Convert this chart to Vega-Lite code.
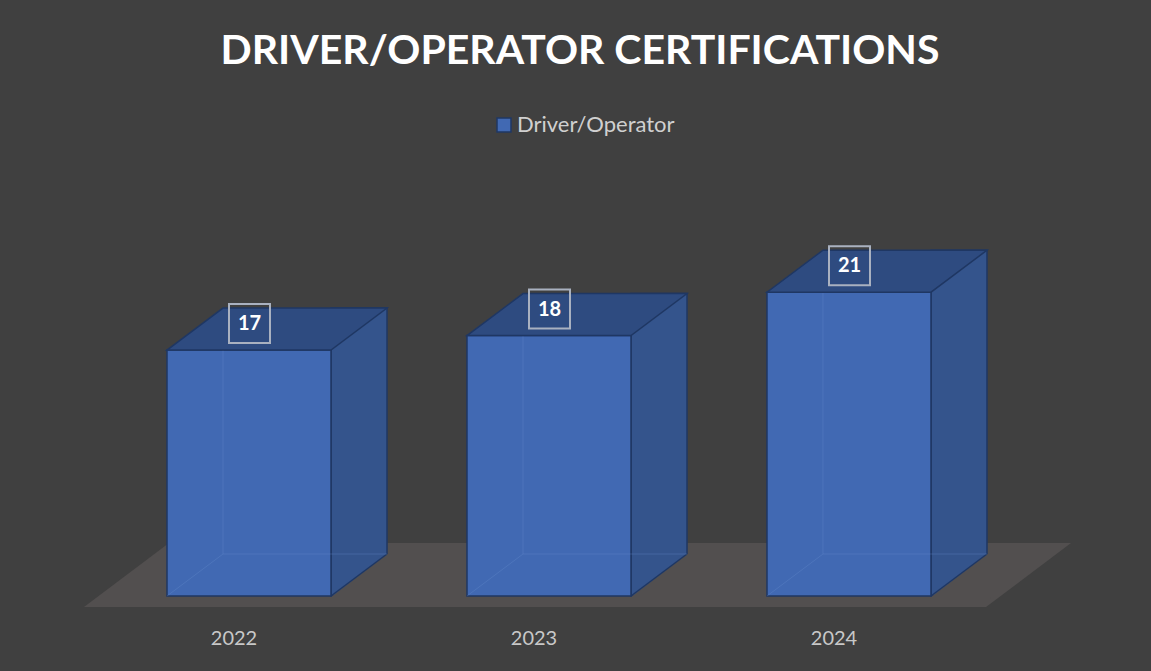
{
  "$schema": "https://vega.github.io/schema/vega-lite/v6.json",
  "width": 900,
  "height": 434,
  "autosize": {"type": "none"},
  "padding": {"left": 99, "top": 162, "right": 152, "bottom": 75},
  "background": "#404040",
  "config": {"view": {"stroke": null}, "font": "Lato"},
  "title": {
    "text": "DRIVER/OPERATOR CERTIFICATIONS",
    "font": "Lato",
    "fontSize": 41,
    "fontWeight": "bold",
    "color": "#FFFFFF",
    "anchor": "middle",
    "frame": "group",
    "dx": 31,
    "offset": 41
  },
  "data": {
    "values": [
      {"year": "2022", "value": 17},
      {"year": "2023", "value": 18},
      {"year": "2024", "value": 21}
    ]
  },
  "encoding": {
    "x": {
      "field": "year",
      "type": "nominal",
      "scale": {"paddingInner": 0.45333, "paddingOuter": 0.22667},
      "axis": {
        "title": null,
        "ticks": false,
        "domain": false,
        "labelAngle": 0,
        "labelColor": "#C8C8C8",
        "labelFont": "Lato",
        "labelFontSize": 20,
        "labelOffset": -15,
        "labelBaseline": "middle",
        "labelPadding": 42
      }
    },
    "y": {
      "field": "value",
      "type": "quantitative",
      "scale": {"domain": [0, 30], "nice": false, "zero": true},
      "axis": null
    }
  },
  "layer": [
    {
      "transform": [{"filter": "datum.year == '2023'"}],
      "mark": {"type": "point", "shape": "M-465,11L437,11L522,-53L-380,-53Z", "size": 4, "filled": true, "fill": "#524F4F", "opacity": 1, "strokeWidth": 0},
      "encoding": {"y": {"datum": 0, "type": "quantitative", "axis": null}}
    },
    {
      "mark": {"type": "bar", "width": 56, "xOffset": 110, "yOffset": -42, "fill": "#34548C", "stroke": "#1F3763", "strokeWidth": 1.5},
      "encoding": {"y2": {"datum": 0}}
    },
    {
      "mark": {"type": "point", "shape": "M82,1L138,-42L142,-42L142,3L82,3Z", "size": 4, "filled": true, "fill": "#524F4F", "opacity": 1, "strokeWidth": 0},
      "encoding": {"y": {"datum": 0, "type": "quantitative", "axis": null}}
    },
    {
      "mark": {"type": "point", "shape": "M82,0L138,-42", "size": 4, "filled": false, "stroke": "#1F3763", "strokeWidth": 1.5, "opacity": 1},
      "encoding": {"y": {"datum": 0, "type": "quantitative", "axis": null}}
    },
    {
      "mark": {"type": "bar", "stroke": "#1F3763", "strokeWidth": 1.5, "opacity": 1},
      "encoding": {
        "y2": {"datum": 0},
        "color": {
          "datum": "Driver/Operator",
          "type": "nominal",
          "scale": {"range": ["#4169B3"]},
          "legend": {
            "orient": "none",
            "legendX": 394,
            "legendY": -48,
            "title": null,
            "padding": 0,
            "symbolType": "square",
            "symbolSize": 196,
            "symbolStrokeColor": "#1F3763",
            "symbolStrokeWidth": 1.5,
            "labelColor": "#D0D0D0",
            "labelFont": "Lato",
            "labelFontSize": 22,
            "labelOffset": 2
          }
        }
      }
    },
    {
      "mark": {"type": "point", "shape": "M-82,0L-26,-42L138,-42", "size": 4, "filled": false, "stroke": "#6A8FD0", "strokeWidth": 1, "opacity": 0.3},
      "encoding": {"y": {"datum": 0, "type": "quantitative", "axis": null}}
    },
    {
      "mark": {"type": "rule", "xOffset": -26, "yOffset": -42, "y2Offset": -42, "stroke": "#6A8FD0", "strokeWidth": 1, "opacity": 0.3},
      "encoding": {"y2": {"datum": 0}}
    },
    {
      "mark": {"type": "point", "shape": "M-82,0L82,0L138,-42L-26,-42Z", "size": 4, "filled": true, "fill": "#2E4B80", "stroke": "#1F3763", "strokeWidth": 1.5, "opacity": 1}
    },
    {
      "mark": {"type": "point", "shape": "M-20,-46H21V-7H-20Z", "size": 4, "filled": false, "stroke": "#A9B1C0", "strokeWidth": 2, "opacity": 1}
    },
    {
      "mark": {"type": "text", "font": "Lato", "fontSize": 20, "fontWeight": "bold", "color": "#FFFFFF", "baseline": "middle", "yOffset": -26, "dx": 0.5},
      "encoding": {"text": {"field": "value", "type": "quantitative"}}
    }
  ]
}
